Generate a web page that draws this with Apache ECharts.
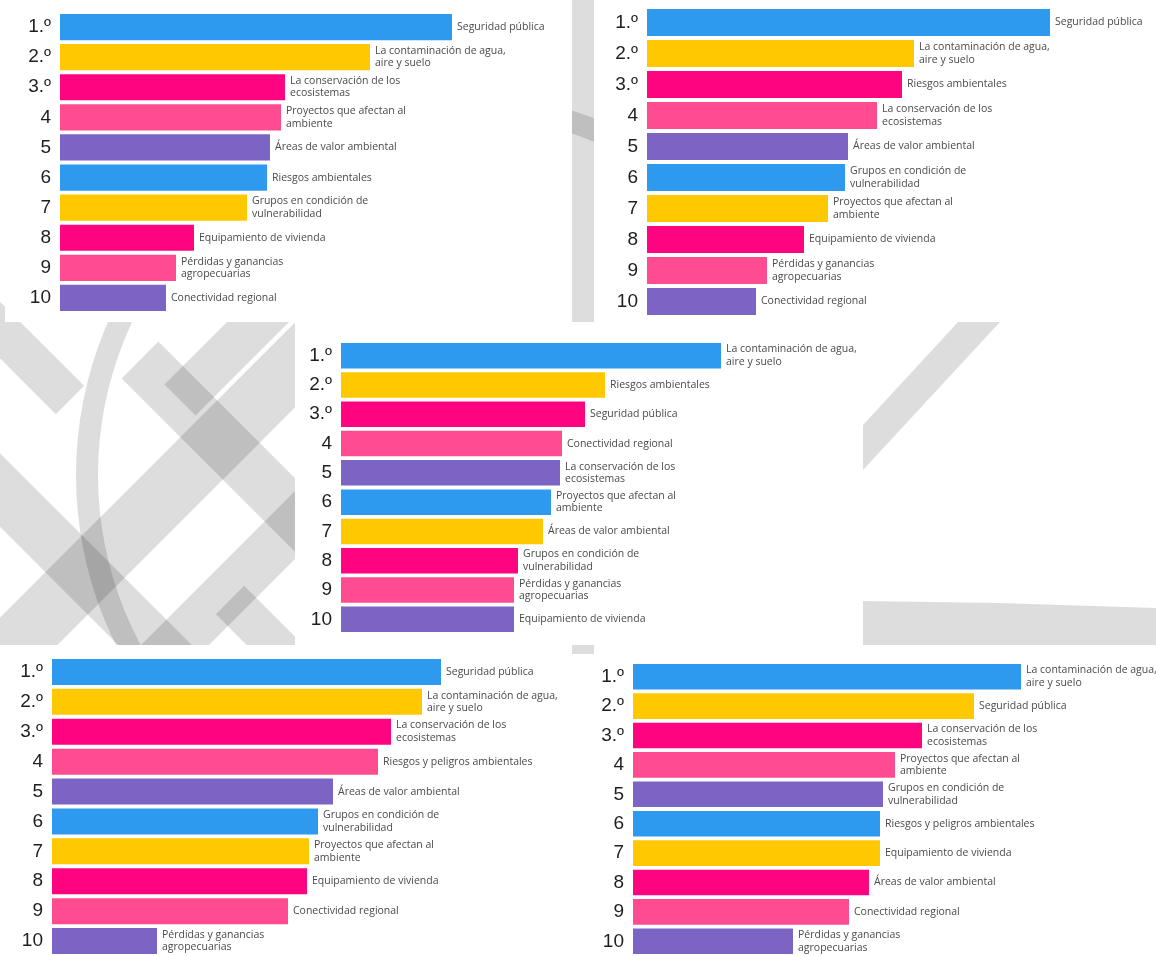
<!DOCTYPE html>
<html><head><meta charset="utf-8">
<script src="https://cdn.jsdelivr.net/npm/echarts@6/dist/echarts.min.js"></script>
<style>html,body{margin:0;padding:0;background:#fff}#c{width:1156px;height:956px}</style>
</head><body><div id="c"></div>
<script>
// ---- data ----
const ranks = ['1.º', '2.º', '3.º', '4', '5', '6', '7', '8', '9', '10'];

const p1Names = ['Seguridad pública', 'La contaminación de agua, aire y suelo', 'La conservación de los ecosistemas',
  'Proyectos que afectan al ambiente', 'Áreas de valor ambiental', 'Riesgos ambientales',
  'Grupos en condición de vulnerabilidad', 'Equipamiento de vivienda', 'Pérdidas y ganancias agropecuarias',
  'Conectividad regional'];
const p1Values = [392, 310, 225, 221, 210, 207, 187, 134, 116, 106];

const p2Names = ['Seguridad pública', 'La contaminación de agua, aire y suelo', 'Riesgos ambientales',
  'La conservación de los ecosistemas', 'Áreas de valor ambiental', 'Grupos en condición de vulnerabilidad',
  'Proyectos que afectan al ambiente', 'Equipamiento de vivienda', 'Pérdidas y ganancias agropecuarias',
  'Conectividad regional'];
const p2Values = [403, 267, 255, 230, 201, 198, 181, 157, 120, 109];

const p3Names = ['La contaminación de agua, aire y suelo', 'Riesgos ambientales', 'Seguridad pública',
  'Conectividad regional', 'La conservación de los ecosistemas', 'Proyectos que afectan al ambiente',
  'Áreas de valor ambiental', 'Grupos en condición de vulnerabilidad', 'Pérdidas y ganancias agropecuarias',
  'Equipamiento de vivienda'];
const p3Values = [380, 264, 244, 221, 219, 210, 202, 177, 173, 173];

const p4Names = ['Seguridad pública', 'La contaminación de agua, aire y suelo', 'La conservación de los ecosistemas',
  'Riesgos y peligros ambientales', 'Áreas de valor ambiental', 'Grupos en condición de vulnerabilidad',
  'Proyectos que afectan al ambiente', 'Equipamiento de vivienda', 'Conectividad regional',
  'Pérdidas y ganancias agropecuarias'];
const p4Values = [389, 370, 339, 326, 281, 266, 257, 255, 236, 105];

const p5Names = ['La contaminación de agua, aire y suelo', 'Seguridad pública', 'La conservación de los ecosistemas',
  'Proyectos que afectan al ambiente', 'Grupos en condición de vulnerabilidad', 'Riesgos y peligros ambientales',
  'Equipamiento de vivienda', 'Áreas de valor ambiental', 'Conectividad regional',
  'Pérdidas y ganancias agropecuarias'];
const p5Values = [388, 341, 289, 262, 250, 247, 247, 236, 216, 160];

const wrapText = {
  'La contaminación de agua, aire y suelo': 'La contaminación de agua,\naire y suelo',
  'La conservación de los ecosistemas': 'La conservación de los\necosistemas',
  'Proyectos que afectan al ambiente': 'Proyectos que afectan al\nambiente',
  'Grupos en condición de vulnerabilidad': 'Grupos en condición de\nvulnerabilidad',
  'Pérdidas y ganancias agropecuarias': 'Pérdidas y ganancias\nagropecuarias'
};

const barColors = ['#2d9af0', '#ffc800', '#ff0480', '#ff4c91', '#7c64c4'];

// ---- layout ----
const panels = [
  { names: p1Names, values: p1Values, left: 60, top: 12, height: 301 },
  { names: p2Names, values: p2Values, left: 647, top: 7, height: 310 },
  { names: p3Names, values: p3Values, left: 341, top: 341, height: 293 },
  { names: p4Names, values: p4Values, left: 52, top: 657, height: 299 },
  { names: p5Names, values: p5Values, left: 633, top: 662, height: 297 }
];
const GRID_W = 500;

// watermark helpers (decoration only)
const WM = 'rgba(0,0,0,0.135)';
function band(x1, y1, x2, y2, hw) {
  const dx = x2 - x1, dy = y2 - y1, L = Math.hypot(dx, dy);
  const nx = -dy / L * hw, ny = dx / L * hw;
  return { type: 'polygon', z: 1, shape: { points: [[x1 + nx, y1 + ny], [x2 + nx, y2 + ny], [x2 - nx, y2 - ny], [x1 - nx, y1 - ny]] },
    style: { fill: WM } };
}
const graphics = [
  { type: 'ring', z: 1, shape: { cx: 458, cy: 475, r: 382, r0: 360 }, style: { fill: WM } },
  band(-40, 450, 190, 680, 26),
  band(-20, 680, 340, 320, 30),
  band(130, 690, 340, 480, 24),
  band(140, 360, 330, 550, 26),
  band(180, 400, 330, 250, 22),
  band(-30, 300, 70, 400, 20),
  band(230, 600, 330, 700, 20),
  { type: 'polygon', z: 1, shape: { points: [[863, 425], [958, 322], [1000, 322], [863, 470]] }, style: { fill: WM } },
  { type: 'polygon', z: 1, shape: { points: [[863, 601], [1000, 603], [1156, 608], [1156, 646], [863, 646]] }, style: { fill: WM } },
  { type: 'rect', z: 1, shape: { x: 572, y: 0, width: 22, height: 322 }, style: { fill: WM } },
  // white panels
  { type: 'rect', z: 2, shape: { x: 5, y: 0, width: 567, height: 322 }, style: { fill: '#fff' } },
  { type: 'rect', z: 2, shape: { x: 594, y: 0, width: 562, height: 322 }, style: { fill: '#fff' } },
  { type: 'rect', z: 2, shape: { x: 295, y: 322, width: 568, height: 323 }, style: { fill: '#fff' } },
  { type: 'rect', z: 2, shape: { x: 0, y: 645, width: 594, height: 311 }, style: { fill: '#fff' } },
  { type: 'rect', z: 2, shape: { x: 594, y: 645, width: 562, height: 311 }, style: { fill: '#fff' } },
  { type: 'rect', z: 3, shape: { x: 572, y: 645, width: 22, height: 9 }, style: { fill: WM } }
];

const grid = [], xAxis = [], yAxis = [], series = [];
panels.forEach((p, i) => {
  grid.push({ left: p.left, top: p.top, width: GRID_W, height: p.height, containLabel: false });
  xAxis.push({ type: 'value', gridIndex: i, min: 0, max: GRID_W, show: false });
  yAxis.push({
    type: 'category', gridIndex: i, inverse: true, data: ranks, z: 10,
    axisLine: { show: false }, axisTick: { show: false }, splitLine: { show: false },
    axisLabel: { fontSize: 19, color: '#1e1e1e', fontFamily: 'Liberation Sans', margin: 9 }
  });
  series.push({
    type: 'bar', xAxisIndex: i, yAxisIndex: i, z: 10, barCategoryGap: '13%',
    data: p.values.map((v, k) => ({ value: v, name: p.names[k], itemStyle: { color: barColors[k % 5] } })),
    label: {
      show: true, position: 'right', distance: 5,
      formatter: (q) => wrapText[q.name] || q.name,
      fontSize: 10.5, lineHeight: 12.5, color: '#4a4a4a', fontFamily: 'Open Sans'
    },
    animation: false
  });
});

const chart = echarts.init(document.getElementById('c'), null, { renderer: 'canvas' });
chart.setOption({
  backgroundColor: '#ffffff',
  animation: false,
  graphic: { elements: graphics },
  grid, xAxis, yAxis, series
});
</script></body></html>
